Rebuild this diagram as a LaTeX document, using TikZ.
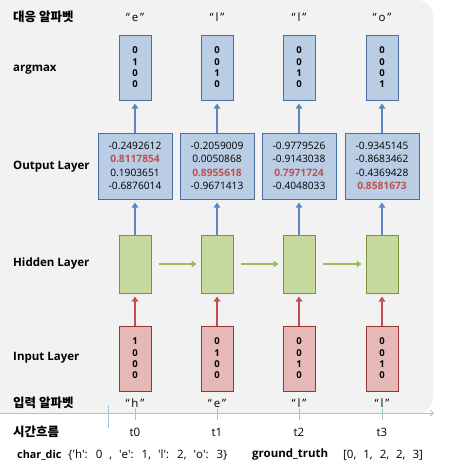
\documentclass[tikz,border=0pt]{standalone}
\usepackage{fontspec}
\setmainfont{Open Sans}
\newfontfamily\kr{Noto Sans CJK KR}
\usetikzlibrary{arrows.meta}

\definecolor{panelgray}{HTML}{F2F2F2}
\definecolor{fillblue}{HTML}{B9CDE5}
\definecolor{edgeblue}{HTML}{4A6E9E}
\definecolor{arrblue}{HTML}{5B87BE}
\definecolor{fillgreen}{HTML}{C7DA9D}
\definecolor{edgegreen}{HTML}{77933C}
\definecolor{arrgreen}{HTML}{9BBB59}
\definecolor{fillred}{HTML}{E6B9B8}
\definecolor{edgered}{HTML}{953735}
\definecolor{arrred}{HTML}{C0504D}
\definecolor{hotred}{HTML}{C0504D}
\definecolor{timecol}{HTML}{9CCAD8}

\newcommand{\hot}[1]{\textcolor{hotred}{\bfseries #1}}
\newcommand{\gap}{,\hspace{7pt}}
\newcommand{\q}[1]{\textquotesingle#1\textquotesingle}

\tikzset{
  rowlabel/.style={anchor=west, inner sep=0pt, font=\bfseries\fontsize{11.5}{13}\selectfont},
  krlabel/.style={anchor=west, inner sep=0pt, font=\kr\bfseries\fontsize{12.5}{14}\selectfont},
  letter/.style={inner sep=0pt, font=\fontsize{11.5}{13}\selectfont},
  onehot/.style={draw=#1, line width=1pt, minimum width=32pt, minimum height=65pt,
    inner sep=0pt, align=center, font=\bfseries\fontsize{9.5}{11.3}\selectfont},
  outbox/.style={draw=edgeblue, fill=fillblue, line width=1pt, minimum width=74pt,
    minimum height=66pt, inner sep=0pt, align=center, font=\fontsize{10.2}{13.3}\selectfont},
  hidbox/.style={draw=edgegreen, fill=fillgreen, line width=1pt, minimum width=32pt,
    minimum height=58pt, inner sep=0pt},
  uparr/.style={draw=#1, line width=1.6pt, -{Triangle[length=5pt,width=6.5pt]}, shorten >=3pt},
}

\begin{document}
\begin{tikzpicture}[x=1pt,y=-1pt]
\useasboundingbox (0,0) rectangle (448,469);
% background panel
\fill[panelgray, rounded corners=16pt] (-20,0) rectangle (433,414);

% row labels
\node[krlabel] (lbltop) at (13,17) {대응 알파벳};
\node[rowlabel] (lblam) at (13,70) {argmax};
\node[rowlabel] (lblout) at (13,167) {Output Layer};
\node[rowlabel] (lblhid) at (13,264) {Hidden Layer};
\node[rowlabel] (lblin) at (13,358) {Input Layer};
\node[krlabel] (lblbot) at (13,403) {입력 알파벳};
\node[krlabel] (lbltime) at (13,432) {시간흐름};

% time axis
\draw[timecol, line width=1pt, -{Straight Barb[length=3pt,width=6pt]}] (0,413) -- (434,413);
\draw[timecol, line width=1pt] (108,405) -- (108,428);

% one column per time step
\foreach \i/\x/\up/\am/\out/\inp/\dn in {
  0/135/e/{0\\1\\0\\0}/{-0.2492612\\\hot{0.8117854}\\0.1903651\\-0.6876014}/{1\\0\\0\\0}/h,
  1/217/l/{0\\0\\1\\0}/{-0.2059009\\0.0050868\\\hot{0.8955618}\\-0.9671413}/{0\\1\\0\\0}/e,
  2/299/l/{0\\0\\1\\0}/{-0.9779526\\-0.9143038\\\hot{0.7971724}\\-0.4048033}/{0\\0\\1\\0}/l,
  3/382/o/{0\\0\\0\\1}/{-0.9345145\\-0.8683462\\-0.4369428\\\hot{0.8581673}}/{0\\0\\1\\0}/l} {
    \node[letter] (top\i) at (\x,17) {“\,\up\,”};
    \node[onehot=edgeblue, fill=fillblue] (am\i) at (\x,67.5) {\am};
    \node[outbox] (out\i) at (\x,166) {\out};
    \node[hidbox] (hid\i) at (\x,264) {};
    \node[onehot=edgered, fill=fillred] (in\i) at (\x,358.5) {\inp};
    \node[letter] (bot\i) at (\x,403) {“\,\dn\,”};
    \node[letter] (time\i) at (\x,432) {t\i};
    \draw[uparr=arrblue] (out\i) -- (am\i);
    \draw[uparr=arrblue] (hid\i) -- (out\i);
    \draw[uparr=arrred] (in\i) -- (hid\i);
    \draw[timecol, line width=1pt] (\x,408) -- (\x,420);
}

% recurrent links
\foreach \a/\b in {0/1,1/2,2/3}
  \draw[line width=1.6pt, arrgreen, -{Triangle[length=5pt,width=6.5pt]}, shorten <=7pt, shorten >=4pt] (hid\a) -- (hid\b);

% bottom line
\node[rowlabel, font=\bfseries\fontsize{10.8}{13}\selectfont] (dicname) at (17,455) {char\_dic};
\node[letter, anchor=west] (dicval) at (68,455) {\spaceskip=7pt\{\q{h}: 0 , \q{e}: 1, \q{l}: 2, \q{o}: 3\}};
\node[rowlabel] (gtname) at (252,455) {ground\_truth};
\node[letter, anchor=west] (gtval) at (343,455) {[0\gap 1\gap 2\gap 2\gap 3]};
\end{tikzpicture}
\end{document}
